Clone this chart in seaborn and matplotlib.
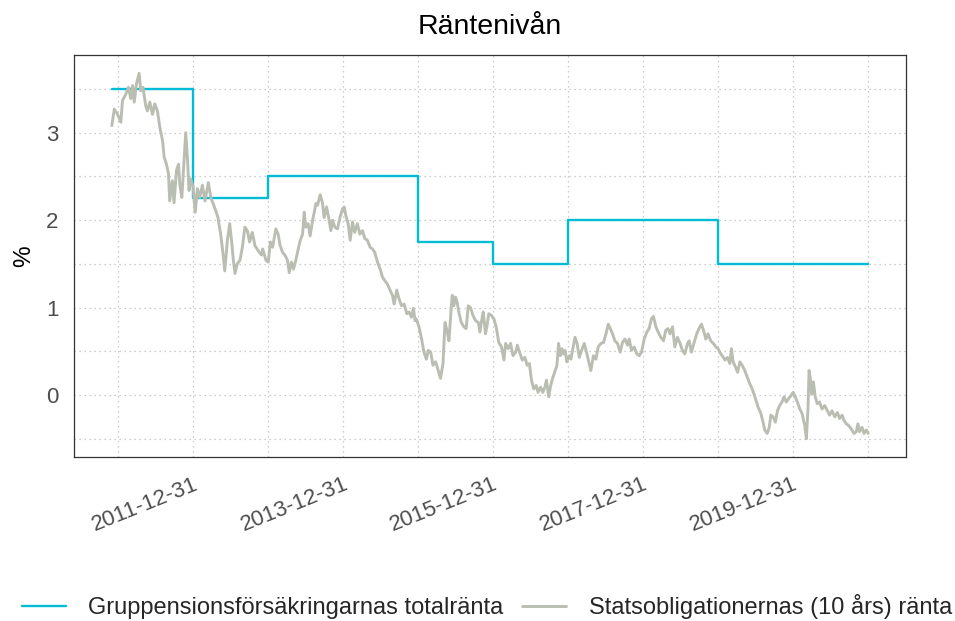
import matplotlib
matplotlib.use("Agg")
import matplotlib.dates as mdates
import matplotlib.pyplot as plt
import pandas as pd
import seaborn as sns
from matplotlib.ticker import FixedLocator

sns.set_theme(style="white")
plt.rcParams["font.family"] = ["Liberation Sans", "DejaVu Sans"]

# Gruppensionsförsäkringarnas totalränta (stegvis, gäller från datum)
total_dates = ["2010-11-30", "2011-12-31", "2012-12-31", "2014-12-31",
               "2015-12-31", "2016-12-31", "2018-12-31", "2020-12-31"]
total_rates = [3.50, 2.25, 2.50, 1.75, 1.50, 2.00, 1.50, 1.50]

# Statsobligationernas (10 års) ränta
bond_dates = [
    "2010-11-30", "2010-12-12", "2010-12-28",
    "2011-01-13", "2011-01-21", "2011-02-06", "2011-02-19", "2011-03-02", "2011-03-11",
    "2011-03-19", "2011-03-30", "2011-04-12", "2011-04-20", "2011-05-01", "2011-05-14",
    "2011-05-22", "2011-06-03", "2011-06-16", "2011-06-27", "2011-07-10", "2011-07-22",
    "2011-08-04", "2011-08-12", "2011-08-23", "2011-09-02", "2011-09-08", "2011-09-21",
    "2011-09-29", "2011-10-11", "2011-10-21", "2011-10-27", "2011-11-06", "2011-11-14",
    "2011-11-25", "2011-12-03", "2011-12-11", "2011-12-19", "2011-12-31",
    "2012-01-10", "2012-01-21", "2012-02-01", "2012-02-14", "2012-02-27", "2012-03-14",
    "2012-03-26", "2012-04-06", "2012-04-19", "2012-04-30", "2012-05-13", "2012-05-25",
    "2012-06-02", "2012-06-15", "2012-06-26", "2012-07-06", "2012-07-14", "2012-07-22",
    "2012-08-02", "2012-08-15", "2012-08-27", "2012-09-08", "2012-09-20", "2012-10-01",
    "2012-10-14", "2012-10-27", "2012-11-12", "2012-11-28", "2012-12-04", "2012-12-20",
    "2012-12-31",
    "2013-01-10", "2013-01-21", "2013-02-06", "2013-02-17", "2013-02-27", "2013-03-11",
    "2013-03-22", "2013-04-04", "2013-04-12", "2013-04-23", "2013-05-03", "2013-05-14",
    "2013-05-26", "2013-06-05", "2013-06-16", "2013-06-24", "2013-07-02", "2013-07-13",
    "2013-07-23", "2013-08-04", "2013-08-12", "2013-08-20", "2013-08-28", "2013-09-10",
    "2013-09-21", "2013-09-29", "2013-10-11", "2013-10-21", "2013-11-01", "2013-11-09",
    "2013-11-20", "2013-12-03", "2013-12-15", "2013-12-28",
    "2014-01-05", "2014-01-13", "2014-01-24", "2014-02-03", "2014-02-14", "2014-02-25",
    "2014-03-10", "2014-03-22", "2014-04-04", "2014-04-15", "2014-04-28", "2014-05-11",
    "2014-05-23", "2014-06-03", "2014-06-16", "2014-06-29", "2014-07-10", "2014-07-21",
    "2014-08-03", "2014-08-16", "2014-08-28", "2014-09-05", "2014-09-18", "2014-09-29",
    "2014-10-11", "2014-10-24", "2014-11-06", "2014-11-17", "2014-11-28", "2014-12-08",
    "2014-12-16", "2014-12-22",
    "2015-01-04", "2015-01-17", "2015-01-28", "2015-02-09", "2015-02-18", "2015-03-02",
    "2015-03-13", "2015-03-26", "2015-04-08", "2015-04-19", "2015-05-01", "2015-05-11",
    "2015-05-22", "2015-05-30", "2015-06-07", "2015-06-15", "2015-06-23", "2015-07-01",
    "2015-07-09", "2015-07-17", "2015-07-29", "2015-08-11", "2015-08-22", "2015-09-01",
    "2015-09-12", "2015-09-24", "2015-10-07", "2015-10-20", "2015-10-28", "2015-11-05",
    "2015-11-13", "2015-11-24", "2015-12-02", "2015-12-10", "2015-12-23",
    "2016-01-04", "2016-01-15", "2016-01-28", "2016-02-10", "2016-02-22", "2016-03-01",
    "2016-03-14", "2016-03-25", "2016-04-06", "2016-04-19", "2016-04-27", "2016-05-08",
    "2016-05-21", "2016-06-03", "2016-06-14", "2016-06-25", "2016-07-05", "2016-07-16",
    "2016-07-28", "2016-08-06", "2016-08-18", "2016-08-29", "2016-09-08", "2016-09-16",
    "2016-09-27", "2016-10-05", "2016-10-13", "2016-10-26", "2016-11-06", "2016-11-14",
    "2016-11-22", "2016-11-30", "2016-12-08", "2016-12-16", "2016-12-24",
    "2017-01-05", "2017-01-13", "2017-01-21", "2017-02-02", "2017-02-12", "2017-02-23",
    "2017-03-06", "2017-03-19", "2017-04-01", "2017-04-12", "2017-04-20", "2017-05-03",
    "2017-05-15", "2017-05-26", "2017-06-08", "2017-06-21", "2017-07-03", "2017-07-14",
    "2017-07-24", "2017-08-04", "2017-08-15", "2017-08-28", "2017-09-10", "2017-09-21",
    "2017-10-03", "2017-10-16", "2017-10-24", "2017-11-04", "2017-11-17", "2017-11-30",
    "2017-12-12", "2017-12-23",
    "2018-01-05", "2018-01-18", "2018-01-29", "2018-02-09", "2018-02-19", "2018-03-03",
    "2018-03-14", "2018-03-27", "2018-04-09", "2018-04-20", "2018-05-01", "2018-05-11",
    "2018-05-23", "2018-06-03", "2018-06-16", "2018-06-29", "2018-07-10", "2018-07-22",
    "2018-08-04", "2018-08-12", "2018-08-23", "2018-09-05", "2018-09-18", "2018-09-29",
    "2018-10-11", "2018-10-21", "2018-11-01", "2018-11-12", "2018-11-25", "2018-12-08",
    "2018-12-20", "2018-12-31",
    "2019-01-13", "2019-01-26", "2019-02-02", "2019-02-15", "2019-02-26", "2019-03-06",
    "2019-03-14", "2019-03-26", "2019-04-05", "2019-04-16", "2019-04-27", "2019-05-10",
    "2019-05-23", "2019-06-03", "2019-06-15", "2019-06-24", "2019-07-06", "2019-07-14",
    "2019-07-27", "2019-08-07", "2019-08-15", "2019-08-27", "2019-09-06", "2019-09-14",
    "2019-09-25", "2019-10-06", "2019-10-16", "2019-10-27", "2019-11-07", "2019-11-17",
    "2019-11-28", "2019-12-10", "2019-12-23", "2019-12-31",
    "2020-01-11", "2020-01-21", "2020-02-02", "2020-02-13", "2020-02-26", "2020-03-05",
    "2020-03-13", "2020-03-18", "2020-03-24", "2020-04-01", "2020-04-08", "2020-04-17",
    "2020-04-27", "2020-05-08", "2020-05-20", "2020-06-02", "2020-06-15", "2020-06-26",
    "2020-07-08", "2020-07-21", "2020-08-03", "2020-08-14", "2020-08-26", "2020-09-04",
    "2020-09-16", "2020-09-27", "2020-10-10", "2020-10-23", "2020-11-03", "2020-11-11",
    "2020-11-19", "2020-12-01", "2020-12-11", "2020-12-22", "2020-12-31",
]
bond_rates = [
    3.08, 3.27, 3.21,
    3.12, 3.37, 3.44, 3.52, 3.39, 3.54,
    3.35, 3.56, 3.68, 3.48, 3.52, 3.31,
    3.25, 3.35, 3.21, 3.33, 3.25, 3.06,
    2.91, 2.72, 2.64, 2.53, 2.22, 2.45,
    2.20, 2.57, 2.64, 2.41, 2.26, 2.57,
    3.00, 2.72, 2.34, 2.47, 2.38,
    2.09, 2.36, 2.26, 2.40, 2.22, 2.43,
    2.26, 2.19, 2.11, 2.03, 1.84, 1.61,
    1.42, 1.77, 1.96, 1.75, 1.54, 1.39,
    1.50, 1.54, 1.69, 1.92, 1.88, 1.75,
    1.86, 1.71, 1.65, 1.60, 1.67, 1.54,
    1.52,
    1.75, 1.69, 1.90, 1.84, 1.71, 1.63,
    1.60, 1.54, 1.40, 1.52, 1.44, 1.54,
    1.67, 1.77, 1.84, 2.09, 1.92, 1.96,
    1.82, 2.00, 2.09, 2.19, 2.17, 2.29,
    2.20, 2.03, 2.15, 2.03, 1.88, 2.00,
    1.92, 1.90, 2.03, 2.13,
    2.15, 2.05, 1.96, 1.77, 1.98, 1.86,
    1.96, 1.84, 1.88, 1.79, 1.77, 1.69,
    1.67, 1.63, 1.52, 1.44, 1.35, 1.31,
    1.27, 1.20, 1.14, 1.04, 1.20, 1.10,
    1.02, 1.04, 0.93, 0.95, 0.89, 0.99,
    0.85, 0.87,
    0.78, 0.64, 0.49, 0.41, 0.51, 0.49,
    0.34, 0.38, 0.28, 0.19, 0.36, 0.83,
    0.72, 0.62, 0.89, 1.14, 1.02, 1.12,
    1.06, 0.95, 0.83, 0.78, 0.76, 1.02,
    1.00, 0.91, 0.85, 0.83, 0.72, 0.85,
    0.95, 0.70, 0.80, 0.93, 0.91,
    0.87, 0.78, 0.60, 0.55, 0.40, 0.59,
    0.53, 0.59, 0.45, 0.49, 0.57, 0.49,
    0.40, 0.43, 0.34, 0.36, 0.17, 0.07,
    0.11, 0.03, 0.09, 0.03, 0.09, 0.17,
    -0.02, 0.09, 0.17, 0.26, 0.34, 0.59,
    0.45, 0.53, 0.47, 0.51, 0.38,
    0.45, 0.41, 0.51, 0.66, 0.59, 0.43,
    0.51, 0.59, 0.47, 0.36, 0.28, 0.45,
    0.41, 0.55, 0.59, 0.60, 0.70, 0.81,
    0.76, 0.70, 0.62, 0.59, 0.49, 0.60,
    0.64, 0.57, 0.64, 0.51, 0.55, 0.47,
    0.45, 0.49,
    0.64, 0.72, 0.76, 0.87, 0.90, 0.78,
    0.72, 0.66, 0.62, 0.74, 0.76, 0.70,
    0.78, 0.55, 0.66, 0.59, 0.51, 0.47,
    0.59, 0.62, 0.49, 0.60, 0.70, 0.76,
    0.81, 0.74, 0.64, 0.70, 0.62, 0.59,
    0.55, 0.53,
    0.47, 0.43, 0.40, 0.43, 0.36, 0.53,
    0.38, 0.32, 0.26, 0.38, 0.34, 0.28,
    0.20, 0.13, 0.07, 0.01, -0.08, -0.14,
    -0.21, -0.31, -0.40, -0.44, -0.37, -0.23,
    -0.25, -0.31, -0.18, -0.12, -0.08, -0.02,
    -0.08, -0.04, 0.00, 0.03,
    -0.02, -0.08, -0.16, -0.21, -0.35, -0.50,
    -0.14, 0.28, 0.19, 0.01, 0.15, -0.02,
    -0.10, -0.08, -0.16, -0.12, -0.18, -0.23,
    -0.18, -0.25, -0.20, -0.27, -0.23, -0.29,
    -0.33, -0.35, -0.39, -0.44, -0.42, -0.33,
    -0.42, -0.37, -0.44, -0.40, -0.44,
]

major_dates = ["2011-12-31", "2013-12-31", "2015-12-31", "2017-12-31", "2019-12-31"]
minor_dates = ["2010-12-31", "2012-12-31", "2014-12-31", "2016-12-31",
               "2018-12-31", "2020-12-31"]

label_total = "Gruppensionsförsäkringarnas totalränta"
label_bond = "Statsobligationernas (10 års) ränta"
CYAN = "#00BCD4"
GRAY = "#BABEB2"
TEXT = "#4D4D4D"
DARK = "#333333"

df_total = pd.DataFrame({"datum": pd.to_datetime(total_dates), "ranta": total_rates})
df_bond = pd.DataFrame({"datum": pd.to_datetime(bond_dates), "ranta": bond_rates})

fig = plt.figure(figsize=(9.55, 6.21), dpi=100)
ax = fig.add_axes([74 / 955, 1 - 457 / 621, (906 - 74) / 955, (457 - 55) / 621])

sns.lineplot(data=df_total, x="datum", y="ranta", drawstyle="steps-post",
             color=CYAN, linewidth=1.7, estimator=None, label=label_total, ax=ax)
sns.lineplot(data=df_bond, x="datum", y="ranta", color=GRAY, linewidth=2.1,
             estimator=None, label=label_bond, ax=ax)

# ggplot-like 5 % expansion
x0 = mdates.date2num(df_bond["datum"].min())
x1 = mdates.date2num(df_bond["datum"].max())
ax.set_xlim(x0 - 0.05 * (x1 - x0), x1 + 0.05 * (x1 - x0))
y0 = min(df_bond["ranta"].min(), min(total_rates))
y1 = max(df_bond["ranta"].max(), max(total_rates))
ax.set_ylim(y0 - 0.05 * (y1 - y0), y1 + 0.05 * (y1 - y0))

ax.set_xticks(pd.to_datetime(major_dates))
ax.set_xticklabels(major_dates)
ax.xaxis.set_minor_locator(FixedLocator(mdates.date2num(pd.to_datetime(minor_dates))))
ax.set_yticks([0, 1, 2, 3])
ax.yaxis.set_minor_locator(FixedLocator([-0.5, 0.5, 1.5, 2.5, 3.5]))

ax.grid(which="both", linestyle=(0, (1, 3)), color="#BDBDBD", linewidth=0.9)
ax.set_axisbelow(True)
for s in ax.spines.values():
    s.set_visible(True)
    s.set_color(DARK)
    s.set_linewidth(0.9)

ax.tick_params(which="major", length=5, width=1.1, color=DARK, labelcolor=TEXT)
ax.tick_params(which="minor", length=0)
ax.tick_params(axis="y", labelsize=16, pad=6)
ax.tick_params(axis="x", labelsize=16, pad=7)
for lab in ax.get_xticklabels():
    lab.set_rotation(22)
    lab.set_ha("right")
    lab.set_va("top")
    lab.set_rotation_mode("anchor")

ax.set_xlabel("")
ax.set_ylabel("%", fontsize=17.5, color="black", labelpad=8)
ax.set_title("Räntenivån", fontsize=20.5, color="black", pad=15)

handles, labels = ax.get_legend_handles_labels()
ax.get_legend().remove()
fig.legend(handles, labels, loc="lower center", bbox_to_anchor=(0.51, -0.02), ncol=2,
           frameon=False, fontsize=17, handlelength=1.85, handletextpad=0.95,
           columnspacing=0.8, borderaxespad=0.2)

fig.savefig("out.png", dpi=100)
